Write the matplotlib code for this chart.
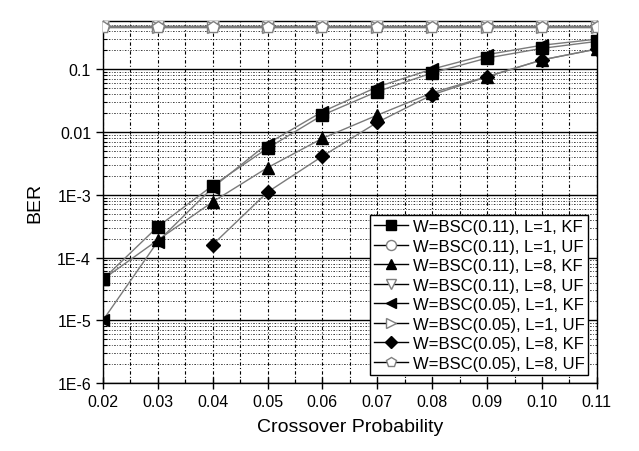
import matplotlib
matplotlib.use("Agg")
import matplotlib.pyplot as plt
from matplotlib.ticker import FixedLocator, FixedFormatter, MultipleLocator, LogLocator, NullFormatter

plt.rcParams['font.family'] = ['Liberation Sans', 'DejaVu Sans']

x = [0.02, 0.03, 0.04, 0.05, 0.06, 0.07, 0.08, 0.09, 0.10, 0.11]

labels = [
    "W=BSC(0.11), L=1, KF",
    "W=BSC(0.11), L=1, UF",
    "W=BSC(0.11), L=8, KF",
    "W=BSC(0.11), L=8, UF",
    "W=BSC(0.05), L=1, KF",
    "W=BSC(0.05), L=1, UF",
    "W=BSC(0.05), L=8, KF",
    "W=BSC(0.05), L=8, UF",
]

bsc011_l1_kf = [4.5e-5, 3.1e-4, 1.4e-3, 5.5e-3, 0.0185, 0.044, 0.087, 0.15, 0.214, 0.276]
bsc011_l1_uf = [0.48, 0.48, 0.48, 0.48, 0.48, 0.48, 0.48, 0.48, 0.48, 0.48]
bsc011_l8_kf = [4.5e-5, 1.9e-4, 7.7e-4, 2.7e-3, 7.9e-3, 0.0185, 0.042, 0.076, 0.14, 0.209]
bsc011_l8_uf = [0.48, 0.48, 0.48, 0.48, 0.48, 0.48, 0.48, 0.48, 0.48, 0.48]
bsc005_l1_kf = [1.0e-5, 1.8e-4, 1.3e-3, 6.5e-3, 0.021, 0.052, 0.1, 0.17, 0.24, 0.30]
bsc005_l1_uf = [0.47, 0.47, 0.47, 0.47, 0.47, 0.47, 0.47, 0.47, 0.47, 0.47]
bsc005_l8_kf = [None, None, 1.6e-4, 1.1e-3, 4.1e-3, 0.0142, 0.039, 0.0755, 0.14, 0.209]
bsc005_l8_uf = [0.47, 0.47, 0.47, 0.47, 0.47, 0.47, 0.47, 0.47, 0.47, 0.47]

series = [bsc011_l1_kf, bsc011_l1_uf, bsc011_l8_kf, bsc011_l8_uf,
          bsc005_l1_kf, bsc005_l1_uf, bsc005_l8_kf, bsc005_l8_uf]
markers = ['s', 'o', '^', 'v', '<', '>', 'D', 'p']
filled = [True, False, True, False, True, False, True, False]
sizes = [8, 8.5, 8.5, 8.5, 8.5, 8.5, 7, 9]

fig = plt.figure(figsize=(6.39, 4.52), dpi=100)
ax = fig.add_axes([0.161, 0.150, 0.773, 0.801])

for ys, lab, m, f, ms in zip(series, labels, markers, filled, sizes):
    xs = [xx for xx, yy in zip(x, ys) if yy is not None]
    yv = [yy for yy in ys if yy is not None]
    ax.plot(xs, yv, color='#7a7a7a', lw=1.0, zorder=3)
    if f:
        ax.plot(xs, yv, ls='none', marker=m, ms=ms, mfc='black', mec='black', zorder=4)
    else:
        ax.plot(xs, yv, ls='none', marker=m, ms=ms, mfc='white', mec='#808080', mew=1.0, zorder=4)

for lab, m, f, ms in zip(labels, markers, filled, sizes):
    if f:
        ax.plot([], [], color='black', lw=1.0, marker=m, ms=ms * 0.85, mfc='black', mec='black', label=lab)
    else:
        ax.plot([], [], color='black', lw=1.0, marker=m, ms=ms * 0.85, mfc='white', mec='#808080', label=lab)

ax.set_yscale('log')
ax.set_xlim(0.02, 0.11)
ax.set_ylim(1e-6, 0.58)

yticks = [1e-6, 1e-5, 1e-4, 1e-3, 1e-2, 1e-1]
ytick_labels = ["1E-6", "1E-5", "1E-4", "1E-3", "0.01", "0.1"]
ax.yaxis.set_major_locator(FixedLocator(yticks))
ax.yaxis.set_major_formatter(FixedFormatter(ytick_labels))
ax.yaxis.set_minor_locator(LogLocator(base=10, subs=range(2, 10), numticks=20))
ax.yaxis.set_minor_formatter(NullFormatter())

xticks = [0.02, 0.03, 0.04, 0.05, 0.06, 0.07, 0.08, 0.09, 0.10, 0.11]
ax.xaxis.set_major_locator(FixedLocator(xticks))
ax.xaxis.set_major_formatter(FixedFormatter(["%.2f" % v for v in xticks]))
ax.xaxis.set_minor_locator(MultipleLocator(0.005))

ax.tick_params(axis='both', which='major', direction='inout', length=8, width=1, labelsize=11.5, colors='black')
ax.tick_params(axis='both', which='minor', direction='in', length=3, width=0.8)
ax.tick_params(axis='y', which='major', direction='out', length=5)

ax.grid(True, which='major', axis='y', color='black', lw=1.0, ls='-')
ax.grid(True, which='minor', axis='y', color='black', lw=0.55, ls=(0, (2, 2, 1, 2)))
ax.grid(True, which='both', axis='x', color='black', lw=0.8, ls=(0, (3, 2, 1, 2)))
ax.set_axisbelow(True)

for sp in ax.spines.values():
    sp.set_color('black')
    sp.set_linewidth(1.0)

ax.set_xlabel("Crossover Probability", fontsize=14, labelpad=7)
ax.set_ylabel("BER", fontsize=14, labelpad=10)

leg = ax.legend(loc='lower right', fontsize=12, frameon=True, fancybox=False,
                edgecolor='black', framealpha=1, borderpad=0.25, labelspacing=0.27,
                handlelength=2.0, handletextpad=0.3, borderaxespad=0.5)
leg.get_frame().set_linewidth(1.0)
leg.set_zorder(10)

fig.savefig("out.png", dpi=100)
